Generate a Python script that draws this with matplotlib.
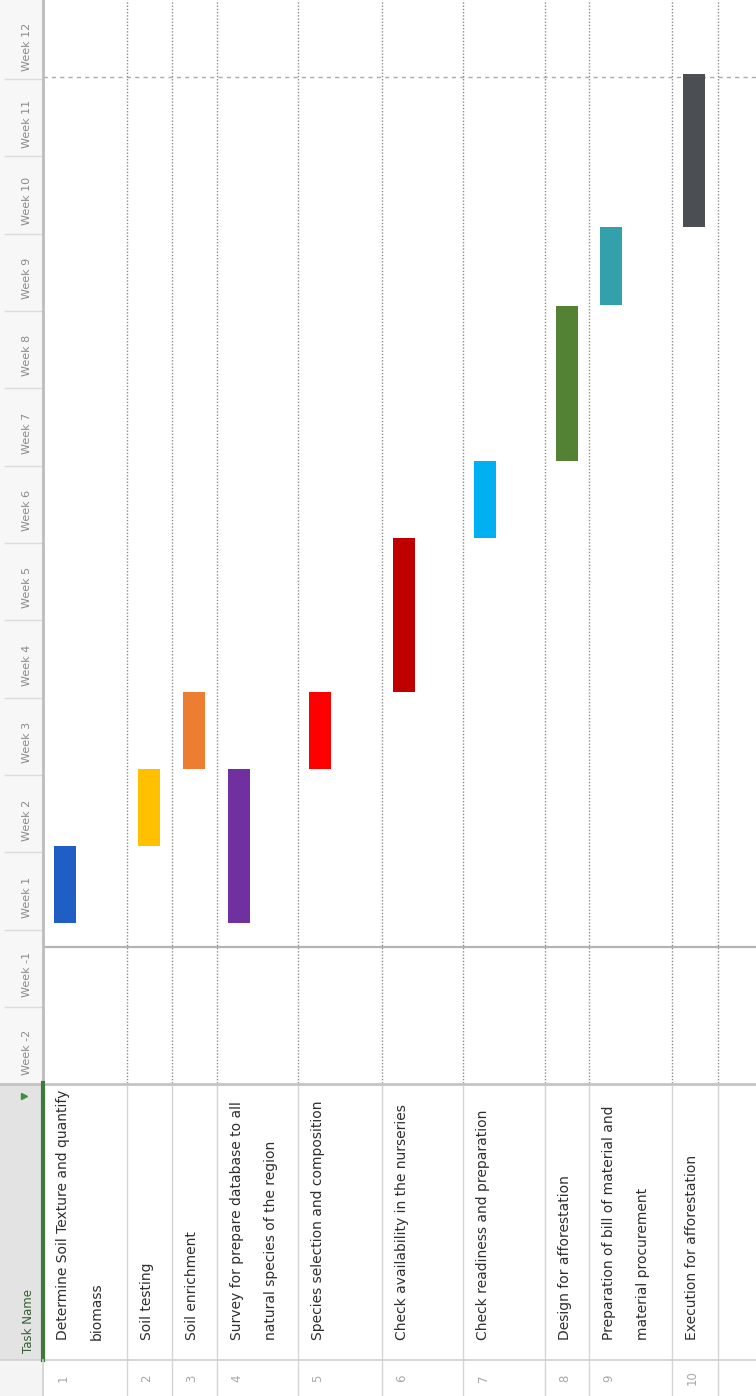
import matplotlib
matplotlib.use("Agg")
import matplotlib.pyplot as plt
from matplotlib import font_manager as fm
import numpy as np

# Gantt view of a project schedule (the sheet is shown rotated 90 degrees)
task_ids = [1, 2, 3, 4, 5, 6, 7, 8, 9, 10]
task_names = [
    "Determine Soil Texture and quantify\nbiomass",
    "Soil testing",
    "Soil enrichment",
    "Survey for prepare database to all\nnatural species of the region",
    "Species selection and composition",
    "Check availability in the nurseries",
    "Check readiness and preparation",
    "Design for afforestation",
    "Preparation of bill of material and\nmaterial procurement",
    "Execution for afforestation",
]
# start / finish in weeks, 0 = beginning of "Week 1"
task_start = [0.09, 1.08, 2.08, 0.09, 2.08, 3.08, 5.06, 6.06, 8.08, 9.08]
task_finish = [1.08, 2.08, 3.08, 2.08, 3.08, 5.06, 6.06, 8.06, 9.08, 11.06]
bar_colors = ["#1f5ec4", "#ffc000", "#ed7d31", "#7030a0", "#ff0000",
              "#c00000", "#00b0f0", "#548235", "#33a1ac", "#4b4f54"]
week_labels = ["Week -2", "Week -1", "Week 1", "Week 2", "Week 3", "Week 4",
               "Week 5", "Week 6", "Week 7", "Week 8", "Week 9", "Week 10",
               "Week 11", "Week 12"]
week_starts = [-2, -1, 0, 1, 2, 3, 4, 5, 6, 7, 8, 9, 10, 11]
start_line = -0.22
finish_line = 11.03

# row sizes in pixels (two-line rows are taller)
row_size = [84, 45, 45, 81, 84, 81, 82, 44, 83, 46]


def available(fam):
    try:
        fm.findfont(fm.FontProperties(family=fam), fallback_to_default=False)
        return True
    except ValueError:
        return False


narrow = available("Liberation Sans Narrow")
FONT = "Liberation Sans Narrow" if narrow else "DejaVu Sans"
FS_TASK = 13 if narrow else 10
FS_WEEK = 10.5 if narrow else 8
FS_HEAD = 11 if narrow else 8.5
plt.rcParams["font.family"] = [FONT, "DejaVu Sans"]

W, H = 756, 1396
fig = plt.figure(figsize=(W / 100, H / 100), dpi=100)


def box(x0, y0, x1, y1):
    return [x0 / W, 1 - y1 / H, (x1 - x0) / W, (y1 - y0) / H]


ax_g = fig.add_axes(box(43, 0, 756, 1083))
ax_w = fig.add_axes(box(0, 0, 43, 1083), sharey=ax_g)
ax_t = fig.add_axes(box(43, 1083, 756, 1396), sharex=ax_g)
ax_h = fig.add_axes(box(0, 1083, 43, 1396))
for ax in (ax_g, ax_w, ax_t, ax_h):
    ax.set_axis_off()
ax_w.set_zorder(3)
ax_h.set_zorder(3)

edges = np.concatenate([[0], np.cumsum(row_size)])
row_start = edges[:-1]

# --- gantt area
ax_g.set_xlim(0, W - 43)
ax_g.set_ylim(-1.98, 12.02)
ax_g.add_patch(plt.Rectangle((0, 0), 1, 1, transform=ax_g.transAxes,
                             color="white", zorder=0))
for e in edges[1:]:
    ax_g.axvline(e, color="#8c8c8c", ls=(0, (1, 1.3)), lw=1, zorder=1)
ax_g.axhline(start_line, color="#b4b4b4", lw=1.6, zorder=1)
ax_g.axhline(finish_line, color="#ababab", ls=(0, (3, 3)), lw=1, zorder=1)
dur = np.array(task_finish) - np.array(task_start)
ax_g.bar(row_start + 22, dur, bottom=task_start, width=22,
         color=bar_colors, zorder=3)

# --- timescale header
ax_w.set_xlim(0, 1)
ax_w.add_patch(plt.Rectangle((0, 0), 1, 1, transform=ax_w.transAxes,
                             color="#f7f7f7", zorder=0))
for s, lab in zip(week_starts, week_labels):
    ax_w.text(0.63, s + 0.42, lab, rotation=90, ha="center", va="center",
              fontsize=FS_WEEK, color="#8a8a8a")
    ax_w.plot([0.12, 0.95], [s, s], color="#dcdcdc", lw=1)
ax_w.axvline(1, color="#bcbcbc", lw=2, clip_on=False)

# --- task table
ax_t.set_ylim(0, 313)
ax_t.add_patch(plt.Rectangle((0, 0), 1, 1, transform=ax_t.transAxes,
                             color="white", zorder=0))
for e in edges[1:]:
    ax_t.plot([e, e], [0, 313], color="#d4d4d4", lw=1)
ax_t.axhline(36, color="#d0d0d0", lw=1.2)
ax_t.axhline(312, color="#c4c4c4", lw=2)
for i, name in enumerate(task_names):
    for j, line in enumerate(name.split("\n")):
        ax_t.text(row_start[i] + 20 + 34 * j, 56, line, rotation=90,
                  ha="center", va="bottom", fontsize=FS_TASK, color="#2e2e2e")
    ax_t.text(row_start[i] + 20, 18, str(task_ids[i]), rotation=90,
              ha="center", va="center", fontsize=FS_WEEK + 0.5, color="#a8a8a8")

# --- table header
ax_h.set_xlim(0, 43)
ax_h.set_ylim(0, 313)
ax_h.axhspan(36, 313, color="#e3e3e3")
ax_h.axhspan(0, 36, color="#f4f4f4")
ax_h.axhline(36, color="#d0d0d0", lw=1.2)
ax_h.axhline(312, color="#c4c4c4", lw=2)
ax_h.plot([43, 43], [36, 313], color="#3d7a3d", lw=3, clip_on=False)
ax_h.plot([43, 43], [0, 36], color="#d0d0d0", lw=1.2, clip_on=False)
ax_h.text(28, 43, "Task Name", rotation=90, ha="center", va="bottom",
          fontsize=FS_HEAD, color="#355e35")
ax_h.plot(24, 300, marker=">", color="#3f8f3f", ms=5)

fig.savefig("out.png", dpi=100)
